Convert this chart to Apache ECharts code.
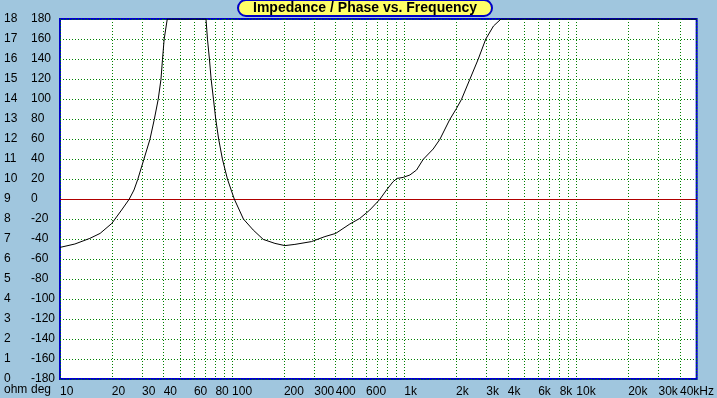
<!DOCTYPE html>
<html>
<head>
<meta charset="utf-8">
<script src="https://cdn.jsdelivr.net/npm/echarts@6/dist/echarts.min.js"></script>
<style>
html,body{margin:0;padding:0;background:#A0C6DE;}
#chart{width:717px;height:398px;}
</style>
</head>
<body>
<div id="chart"></div>
<script>
// ---- data (values above 18 ohm are shown clamped at the top edge) ----
const freqHz = [10, 12.2, 14.9, 17.1, 20, 22.8, 25.2, 26.9, 28.3, 30.7, 33.3, 35.3, 37.2, 38.6, 39.4, 40.3, 42, 50, 60, 70.5,
  71.9, 73.8, 75.5, 77.9, 80.3, 83.5, 87.8, 93.9, 102.9, 116.3, 132.6, 151.6, 177.3, 202.6, 231.6, 289, 345.8,
  400, 483, 552, 631, 721, 789, 862, 910, 985, 1078, 1179, 1288, 1473, 1610, 1840, 2012, 2151, 2404, 2687, 2978, 3300,
  3650, 5000, 10000, 20000, 50000];
const impedanceOhm = [6.58, 6.75, 7.03, 7.28, 7.78, 8.45, 8.98, 9.45, 9.98, 10.98, 11.98, 12.98, 13.98, 14.98, 15.98, 17.0, 18, 18, 18, 18,
  17.0, 16.0, 15.0, 14.0, 13.0, 12.0, 11.0, 10.0, 9.0, 8.0, 7.45, 6.98, 6.78, 6.67, 6.73, 6.87, 7.12,
  7.28, 7.75, 8.03, 8.45, 8.98, 9.45, 9.87, 10.03, 10.08, 10.2, 10.45, 10.98, 11.5, 11.98, 12.98, 13.53, 13.98, 14.98, 15.98, 17.0, 17.65,
  18, 18, 18, 18, 18];
const xTickHz = [10, 20, 30, 40, 60, 80, 100, 200, 300, 400, 600, 1000, 2000, 3000, 4000, 6000, 8000, 10000, 20000, 30000, 40000];
const xTickLabels = ['10', '20', '30', '40', '60', '80', '100', '200', '300', '400', '600', '1k', '2k', '3k', '4k', '6k', '8k', '10k', '20k', '30k', '40kHz'];
const xGridHz = [10,20,30,40,50,60,70,80,90,100,200,300,400,500,600,700,800,900,1000,2000,3000,4000,5000,6000,7000,8000,9000,10000,20000,30000,40000,50000];
const freqMin = 10, freqMax = 50000;
const ohmMin = 0, ohmMax = 18, ohmStep = 1;
const degMin = -180, degMax = 180, degStep = 20;
const zeroPhaseDeg = 0;
const titleText = 'Impedance / Phase vs. Frequency';

const lg = v => Math.log10(v);
const FONT = 'Liberation Sans, Arial, sans-serif';
const grid = { left: 60, right: 20, top: 19, bottom: 19 };
const greenDot = { color: '#008000', width: 1, type: [1, 2] };

const chart = echarts.init(document.getElementById('chart'), null, { renderer: 'canvas' });
chart.setOption({
  backgroundColor: '#A0C6DE',
  animation: false,
  title: {
    text: titleText,
    left: 238, top: 0,
    backgroundColor: '#FFFF66',
    borderColor: '#0000C8', borderWidth: 2, borderRadius: 8,
    padding: [1, 15, 0, 15],
    textStyle: { fontFamily: FONT, fontSize: 14, fontWeight: 'bold', color: '#000', lineHeight: 15 }
  },
  grid: {
    left: grid.left, right: grid.right, top: grid.top, bottom: grid.bottom,
    show: true, backgroundColor: '#FFFFFF', borderColor: '#0000C8', borderWidth: 2
  },
  graphic: [
    { type: 'text', left: 4, top: 384, style: { text: 'ohm', font: '12px ' + FONT, fill: '#000' }, z: 10 },
    { type: 'text', left: 31, top: 384, style: { text: 'deg', font: '12px ' + FONT, fill: '#000' }, z: 10 }
  ],
  xAxis: {
    type: 'value', min: lg(freqMin), max: lg(freqMax),
    axisLine: { show: false },
    axisTick: { show: false, customValues: xGridHz.map(lg) },
    splitLine: { show: true, lineStyle: greenDot },
    axisLabel: {
      customValues: xTickHz.map(lg),
      align: 'left', margin: 7,
      fontFamily: FONT, fontSize: 12, color: '#000',
      formatter: v => {
        const i = xTickHz.findIndex(f => Math.abs(lg(f) - v) < 1e-6);
        return i >= 0 ? xTickLabels[i] : '';
      }
    }
  },
  yAxis: [
    {
      type: 'value', min: ohmMin, max: ohmMax, interval: ohmStep, position: 'left', offset: 0,
      axisLine: { show: false }, axisTick: { show: false }, splitLine: { show: false },
      axisLabel: { align: 'left', margin: 56, fontFamily: FONT, fontSize: 12, color: '#000', padding: [0, 0, 5, 0] }
    },
    {
      type: 'value', min: degMin, max: degMax, interval: degStep, position: 'left', offset: 0,
      axisLine: { show: false }, axisTick: { show: false },
      splitLine: { show: true, lineStyle: greenDot },
      axisLabel: { align: 'left', margin: 29, fontFamily: FONT, fontSize: 12, color: '#000', padding: [0, 0, 5, 0] }
    }
  ],
  series: [
    {
      type: 'line', yAxisIndex: 1, data: [], symbol: 'none', silent: true,
      markLine: {
        silent: true, symbol: 'none', label: { show: false },
        lineStyle: { color: '#B00000', width: 1, type: 'solid' },
        data: [{ yAxis: zeroPhaseDeg }]
      }
    },
    {
      type: 'line', yAxisIndex: 0,
      data: freqHz.map((f, i) => [lg(f), impedanceOhm[i]]),
      symbol: 'none', smooth: false,
      lineStyle: { color: '#000', width: 1 }, z: 5
    }
  ]
});
</script>
</body>
</html>
